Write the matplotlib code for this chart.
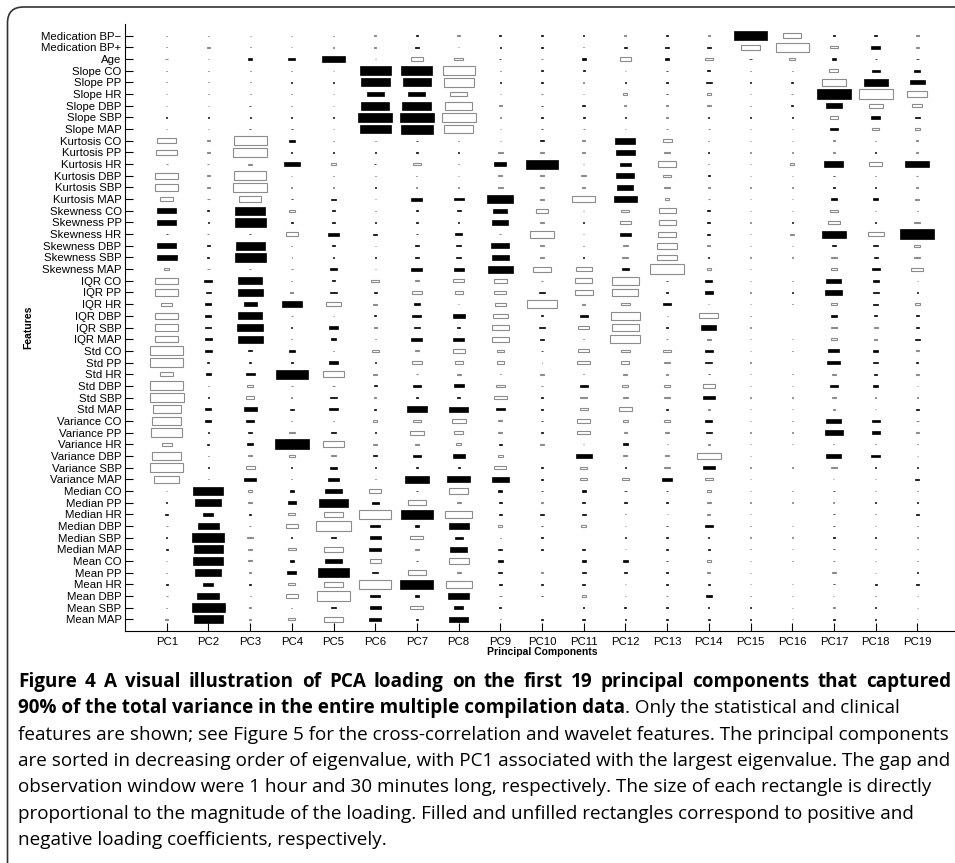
import numpy as np
import matplotlib
matplotlib.use('Agg')
import matplotlib.pyplot as plt
from matplotlib.patches import Rectangle, PathPatch
from matplotlib.path import Path

features = [
    "Medication BP\u2212", "Medication BP+", "Age",
    "Slope CO", "Slope PP", "Slope HR", "Slope DBP", "Slope SBP", "Slope MAP",
    "Kurtosis CO", "Kurtosis PP", "Kurtosis HR", "Kurtosis DBP", "Kurtosis SBP", "Kurtosis MAP",
    "Skewness CO", "Skewness PP", "Skewness HR", "Skewness DBP", "Skewness SBP", "Skewness MAP",
    "IQR CO", "IQR PP", "IQR HR", "IQR DBP", "IQR SBP", "IQR MAP",
    "Std CO", "Std PP", "Std HR", "Std DBP", "Std SBP", "Std MAP",
    "Variance CO", "Variance PP", "Variance HR", "Variance DBP", "Variance SBP", "Variance MAP",
    "Median CO", "Median PP", "Median HR", "Median DBP", "Median SBP", "Median MAP",
    "Mean CO", "Mean PP", "Mean HR", "Mean DBP", "Mean SBP", "Mean MAP",
]
components = [f"PC{i}" for i in range(1, 20)]

# loading per feature (rows) on PC1..PC19 (columns)
medication_age = [
    [0.02, 0.02, -0.02, -0.02, 0.02, -0.06, 0.03, -0.07, 0.05, 0.03, 0.03, -0.05, 0.03, -0.06, 0.80, -0.43, 0.03, 0.06, -0.06],
    [0.02, -0.06, 0.02, -0.02, -0.04, -0.05, 0.10, -0.02, 0.03, 0.06, 0.01, 0.06, 0.11, 0.11, -0.44, -0.79, -0.18, 0.20, -0.08],
    [-0.06, -0.02, 0.11, 0.16, 0.53, -0.02, -0.29, -0.22, 0.05, -0.05, 0.10, -0.27, 0.10, -0.19, 0.08, -0.14, 0.10, 0.05, 0.08],
]
slope = [
    [0.02, 0.02, 0.02, 0.03, -0.02, 0.74, 0.74, -0.77, 0.03, 0.05, 0.04, -0.03, 0.03, 0.08, 0.03, 0.03, -0.22, 0.19, 0.14],
    [0.02, 0.02, 0.02, 0.03, 0.03, 0.70, 0.67, -0.72, 0.03, 0.05, -0.03, 0.03, 0.03, 0.13, 0.03, 0.05, -0.58, 0.58, 0.35],
    [-0.02, 0.02, 0.02, 0.03, -0.02, 0.41, 0.41, -0.42, -0.03, -0.03, -0.03, -0.10, 0.03, -0.11, -0.03, -0.06, 0.82, -0.82, -0.48],
    [-0.02, -0.02, 0.03, 0.03, -0.02, 0.67, 0.70, -0.66, -0.06, 0.03, 0.06, -0.05, -0.06, -0.11, 0.02, 0.05, 0.38, -0.34, -0.24],
    [0.02, 0.02, 0.02, 0.03, 0.03, 0.82, 0.82, -0.82, -0.03, 0.05, 0.05, 0.03, -0.03, 0.03, 0.03, 0.03, -0.21, 0.22, 0.11],
    [-0.02, -0.02, 0.06, 0.04, -0.02, 0.74, 0.77, -0.71, -0.03, 0.03, -0.04, -0.03, -0.04, -0.06, -0.02, -0.02, 0.20, -0.18, -0.12],
]
kurtosis = [
    [-0.46, -0.08, -0.79, 0.14, 0.03, 0.03, 0.03, 0.03, -0.03, 0.11, -0.06, 0.48, -0.22, 0.03, -0.02, -0.02, -0.04, 0.02, -0.04],
    [-0.49, -0.06, -0.82, 0.03, 0.03, 0.03, 0.05, 0.03, -0.11, -0.11, -0.08, 0.45, -0.14, 0.03, -0.02, -0.02, -0.04, 0.02, -0.04],
    [-0.05, -0.05, -0.08, 0.38, -0.11, 0.06, -0.20, 0.01, 0.29, 0.77, -0.02, 0.26, -0.45, 0.03, -0.03, -0.10, 0.46, -0.30, 0.58],
    [-0.54, -0.08, -0.78, -0.02, 0.03, 0.02, 0.02, -0.03, -0.10, -0.11, -0.11, 0.43, -0.19, 0.05, -0.02, -0.02, 0.03, 0.02, -0.04],
    [-0.55, -0.08, -0.82, -0.02, -0.02, 0.03, -0.02, -0.02, -0.11, -0.11, -0.08, 0.38, -0.14, -0.06, -0.02, -0.02, 0.03, 0.03, -0.04],
    [-0.30, -0.06, -0.52, 0.06, 0.10, -0.03, 0.26, 0.24, 0.62, -0.10, -0.55, 0.55, -0.11, -0.06, -0.02, -0.02, 0.14, 0.11, -0.10],
]
skewness = [
    [0.46, 0.05, 0.72, -0.13, 0.05, 0.03, 0.05, 0.10, 0.34, -0.30, -0.03, -0.19, -0.41, 0.08, -0.02, -0.02, -0.21, -0.04, 0.02],
    [0.46, 0.04, 0.74, 0.05, 0.05, 0.03, 0.05, 0.03, 0.38, -0.08, 0.03, -0.27, -0.41, 0.08, -0.02, 0.03, -0.27, 0.03, -0.14],
    [0.05, -0.05, 0.06, -0.30, 0.26, 0.10, 0.03, 0.16, -0.04, -0.58, -0.03, 0.26, -0.42, 0.08, -0.03, -0.10, 0.59, -0.38, 0.82],
    [0.46, 0.06, 0.70, 0.03, 0.06, -0.02, 0.11, 0.11, 0.43, -0.10, 0.03, -0.11, -0.49, -0.08, -0.02, -0.02, 0.08, 0.11, -0.14],
    [0.48, 0.05, 0.74, 0.01, 0.03, 0.03, 0.11, 0.11, 0.41, -0.10, 0.03, -0.14, -0.49, 0.03, -0.02, -0.02, -0.16, 0.10, -0.14],
    [-0.13, -0.06, -0.06, -0.04, 0.18, -0.03, 0.26, 0.24, 0.60, -0.44, -0.39, 0.16, -0.82, -0.11, -0.02, 0.01, -0.13, 0.19, -0.28],
]
iqr = [
    [-0.54, 0.19, 0.58, 0.03, 0.08, -0.19, -0.10, -0.27, -0.30, -0.04, -0.42, -0.66, 0.03, 0.16, -0.03, 0.03, 0.36, 0.14, -0.03],
    [-0.54, 0.11, 0.60, -0.08, 0.16, 0.08, -0.25, -0.19, -0.28, 0.13, -0.44, -0.62, 0.05, 0.18, -0.02, 0.03, 0.41, 0.14, 0.03],
    [-0.25, 0.14, 0.31, 0.48, -0.34, -0.11, 0.16, -0.04, -0.26, -0.74, -0.08, -0.22, 0.19, -0.02, -0.02, 0.03, -0.14, 0.11, -0.13],
    [-0.54, 0.14, 0.58, -0.04, -0.04, 0.06, 0.22, 0.29, -0.36, 0.06, 0.19, -0.69, -0.02, -0.45, 0.03, 0.01, 0.14, 0.08, 0.06],
    [-0.54, 0.14, 0.62, 0.03, 0.21, -0.08, 0.13, 0.06, -0.42, 0.13, -0.27, -0.66, 0.06, 0.36, -0.02, 0.00, -0.13, -0.10, 0.06],
    [-0.54, 0.16, 0.60, 0.03, 0.14, 0.03, 0.26, 0.26, -0.41, 0.11, 0.03, -0.72, -0.03, -0.10, -0.02, -0.02, -0.14, -0.08, 0.11],
]
std = [
    [-0.78, 0.18, 0.10, 0.13, 0.04, -0.16, -0.11, -0.29, -0.16, 0.03, -0.27, -0.22, -0.18, 0.18, -0.03, 0.03, 0.26, 0.13, -0.08],
    [-0.78, 0.05, 0.03, 0.05, 0.22, 0.03, -0.24, -0.19, -0.18, -0.02, -0.30, -0.19, -0.13, 0.16, -0.02, 0.00, 0.31, 0.13, 0.05],
    [-0.30, 0.13, 0.22, 0.77, -0.50, -0.11, -0.05, -0.10, 0.03, -0.08, 0.03, -0.10, -0.06, 0.05, -0.02, 0.03, -0.10, 0.08, -0.06],
    [-0.79, 0.04, -0.14, -0.06, -0.06, 0.08, 0.19, 0.24, -0.21, -0.06, 0.19, -0.14, -0.14, -0.30, -0.03, -0.02, 0.18, 0.13, -0.03],
    [-0.82, 0.04, -0.18, -0.02, 0.16, -0.06, 0.06, 0.06, -0.30, 0.03, -0.16, -0.11, -0.14, 0.29, -0.02, -0.02, -0.10, -0.04, -0.03],
    [-0.68, 0.14, 0.31, 0.10, 0.21, 0.05, 0.48, 0.46, 0.22, 0.06, -0.19, -0.33, 0.06, -0.06, -0.02, -0.02, -0.06, -0.04, 0.06],
]
variance = [
    [-0.70, 0.14, 0.19, 0.03, 0.03, -0.11, -0.19, -0.34, -0.10, 0.05, -0.31, -0.11, -0.13, 0.16, -0.02, 0.03, 0.36, 0.19, -0.06],
    [-0.73, 0.04, 0.10, -0.13, 0.14, 0.03, -0.34, -0.23, -0.10, 0.06, -0.31, -0.08, -0.08, 0.14, -0.02, -0.02, 0.43, 0.19, -0.06],
    [-0.24, 0.05, 0.14, 0.82, -0.52, -0.10, -0.10, -0.13, 0.06, -0.08, -0.02, 0.13, -0.02, -0.06, -0.02, -0.02, 0.02, 0.03, 0.03],
    [-0.70, 0.03, -0.08, -0.13, -0.10, 0.10, 0.19, 0.29, -0.11, -0.02, 0.38, -0.10, -0.10, -0.58, -0.02, 0.00, 0.36, 0.22, -0.02],
    [-0.79, 0.03, -0.22, 0.02, 0.16, 0.02, 0.03, 0.05, -0.29, 0.03, -0.18, 0.03, -0.14, 0.29, -0.02, -0.02, -0.13, 0.03, 0.03],
    [-0.61, 0.04, 0.29, 0.03, 0.24, 0.03, 0.58, 0.55, 0.41, 0.06, -0.18, -0.16, 0.24, -0.19, -0.02, 0.00, -0.02, -0.04, 0.10],
]
median = [
    [-0.03, 0.72, -0.10, 0.10, 0.41, -0.29, 0.06, -0.46, 0.10, 0.03, 0.10, 0.06, 0.05, -0.11, -0.02, 0.03, 0.03, -0.03, 0.03],
    [0.02, 0.62, -0.08, 0.19, 0.70, 0.16, -0.43, -0.10, 0.06, -0.03, 0.08, 0.06, 0.06, -0.10, -0.02, -0.02, -0.02, 0.03, 0.03],
    [0.06, 0.24, 0.05, -0.16, -0.44, -0.77, 0.77, -0.64, 0.08, 0.10, 0.10, 0.03, -0.02, -0.08, -0.02, 0.00, 0.03, 0.03, 0.06],
    [-0.05, 0.50, -0.06, -0.29, -0.83, 0.24, 0.10, 0.48, -0.10, 0.05, -0.11, -0.02, 0.03, 0.18, 0.03, -0.02, 0.03, -0.02, 0.01],
    [0.03, 0.77, -0.13, 0.02, 0.14, 0.26, -0.31, 0.19, 0.01, 0.03, 0.00, 0.03, 0.05, 0.03, -0.02, -0.02, 0.03, 0.03, -0.02],
    [0.05, 0.70, -0.08, -0.18, -0.47, 0.29, -0.08, 0.41, 0.10, 0.04, 0.06, -0.02, 0.05, 0.06, 0.03, -0.03, 0.03, 0.03, 0.03],
]
mean = [
    [-0.03, 0.72, -0.08, 0.10, 0.41, -0.27, 0.06, -0.48, 0.11, 0.02, 0.10, 0.11, 0.03, -0.11, -0.02, 0.03, -0.04, -0.04, 0.03],
    [0.02, 0.62, -0.06, 0.21, 0.72, 0.13, -0.43, -0.10, 0.10, -0.03, 0.10, 0.06, 0.03, -0.08, -0.02, 0.00, -0.10, -0.02, 0.03],
    [0.05, 0.24, 0.05, -0.16, -0.46, -0.77, 0.79, -0.62, 0.08, 0.04, 0.08, -0.02, 0.05, 0.06, -0.02, -0.02, 0.03, 0.05, 0.08],
    [-0.05, 0.53, 0.02, -0.29, -0.81, 0.24, 0.11, 0.50, -0.06, 0.05, -0.10, -0.02, -0.03, 0.14, 0.03, -0.02, -0.02, 0.03, -0.02],
    [0.02, 0.79, -0.06, 0.02, 0.13, 0.26, -0.31, 0.22, 0.04, 0.02, 0.03, 0.05, 0.03, 0.03, 0.03, -0.02, -0.05, 0.03, -0.02],
    [-0.08, 0.70, -0.06, -0.16, -0.46, 0.29, 0.03, 0.46, 0.02, 0.03, 0.06, 0.03, 0.03, 0.06, 0.03, -0.02, 0.03, 0.03, -0.02],
]

caption_bold_1 = "Figure 4 A visual illustration of PCA loading on the first 19 principal components that captured"
caption_bold_2 = "90% of the total variance in the entire multiple compilation data"
caption_rest_2 = ". Only the statistical and clinical"
caption_lines = [
    "features are shown; see Figure 5 for the cross-correlation and wavelet features. The principal components",
    "are sorted in decreasing order of eigenvalue, with PC1 associated with the largest eigenvalue. The gap and",
    "observation window were 1 hour and 30 minutes long, respectively. The size of each rectangle is directly",
    "proportional to the magnitude of the loading. Filled and unfilled rectangles correspond to positive and",
    "negative loading coefficients, respectively.",
]

loadings = np.array(medication_age + slope + kurtosis + skewness + iqr + std + variance + median + mean)

W, H = 955, 863
fig = plt.figure(figsize=(W / 100, H / 100), dpi=100)
plt.rcParams['font.family'] = ['Liberation Sans', 'DejaVu Sans']

ax_left, ax_right, ax_top, ax_bottom = 125, 959, 24, 631
ax = fig.add_axes([ax_left / W, 1 - ax_bottom / H, (ax_right - ax_left) / W, (ax_bottom - ax_top) / H])

n = len(features)
for i in range(n):
    y = n - i
    for j in range(len(components)):
        v = loadings[i, j]
        s = abs(v)
        x = j + 1
        if v >= 0:
            r = Rectangle((x - s / 2, y - s / 2), s, s, facecolor='black', edgecolor='black', lw=0.5)
        else:
            r = Rectangle((x - s / 2, y - s / 2), s, s, facecolor='white', edgecolor='0.55', lw=0.8)
        ax.add_patch(r)

ax.set_xlim(0, 20)
ax.set_ylim(0, n + 1)
ax.set_xticks(range(1, 20))
ax.set_xticklabels(components, fontsize=8.2)
ax.set_yticks([n - i for i in range(n)])
ax.set_yticklabels(features, fontsize=8.2)
ax.tick_params(direction='in', length=5.5, width=0.8, pad=2.5)
ax.tick_params(axis='x', pad=4)
for side in ['top', 'right']:
    ax.spines[side].set_visible(False)
for side in ['left', 'bottom']:
    ax.spines[side].set_linewidth(0.8)
ax.set_facecolor('white')

fig.text(28 / W, 1 - 327 / H, "Features", rotation=90, fontsize=7.5, fontweight='bold',
         ha='center', va='center')
fig.text(542 / W, 1 - 652 / H, "Principal Components", fontsize=7.5, fontweight='bold',
         ha='center', va='center')

# frame with rounded top-left corner (pixel coords -> inches)
def px(xp, yp):
    return (xp / 100, (H - yp) / 100)

rad = 16
fx, fy = 7.5, 7
verts = [px(fx, H + 5), px(fx, fy + rad), px(fx, fy), px(fx + rad, fy), px(W + 5, fy)]
codes = [Path.MOVETO, Path.LINETO, Path.CURVE3, Path.CURVE3, Path.LINETO]
fig.patches.append(PathPatch(Path(verts, codes), transform=fig.dpi_scale_trans,
                             facecolor='none', edgecolor='#333333', lw=1.2))

# caption
cap_font = ['Open Sans', 'DejaVu Sans']
renderer = fig.canvas.get_renderer()
probe = fig.text(0, 0, caption_lines[0], fontsize=12, family=cap_font)
wpx = probe.get_window_extent(renderer).width
probe.remove()
fs = 12 * 927 / wpx

x0 = 18
y0 = 682
dy = 26.3

# first line is justified across the full width
words = caption_bold_1.split(' ')
widths = []
for wd in words:
    t = fig.text(0, 0, wd, fontsize=fs, fontweight='bold', family=cap_font)
    widths.append(t.get_window_extent(renderer).width)
    t.remove()
right_edge = 951
gap = (right_edge - x0 - sum(widths)) / (len(words) - 1)
xc = x0
for wd, wdt in zip(words, widths):
    fig.text(xc / W, 1 - y0 / H, wd, fontsize=fs, fontweight='bold',
             family=cap_font, va='center', ha='left')
    xc += wdt + gap

t2 = fig.text(x0 / W, 1 - (y0 + dy) / H, caption_bold_2, fontsize=fs, fontweight='bold',
              family=cap_font, va='center', ha='left')
ext = t2.get_window_extent(renderer)
fig.text(ext.x1 / W, 1 - (y0 + dy) / H, caption_rest_2, fontsize=fs,
         family=cap_font, va='center', ha='left')
for k, line in enumerate(caption_lines):
    fig.text(x0 / W, 1 - (y0 + dy * (k + 2)) / H, line, fontsize=fs,
             family=cap_font, va='center', ha='left')

fig.savefig("out.png", dpi=100, facecolor='white')
